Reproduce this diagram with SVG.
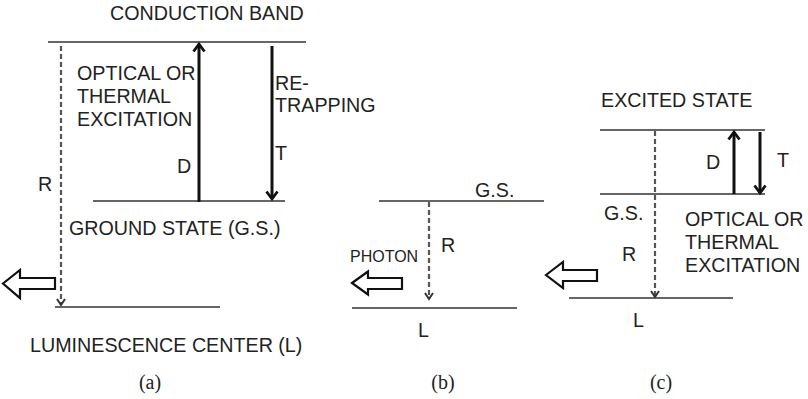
<svg xmlns="http://www.w3.org/2000/svg" width="808" height="399" viewBox="0 0 808 399">
<style>
text{font-family:"Liberation Sans",Arial,sans-serif;font-size:19.7px;fill:#222}
.cap{font-family:"Liberation Serif","DejaVu Serif",serif;font-size:20px;fill:#222}
.lvl{stroke:#333;stroke-width:1.6;fill:none}
.solid{stroke:#111;stroke-width:3;fill:none}
.dash{stroke:#555;stroke-width:2.2;stroke-dasharray:5 3;fill:none}
.hollow{fill:#fff;stroke:#111;stroke-width:2.2;stroke-linejoin:miter}
.sm{font-size:16px}
</style>
<defs>
<marker id="hs" markerWidth="14" markerHeight="14" refX="11" refY="7" orient="auto" markerUnits="userSpaceOnUse" viewBox="0 0 14 14">
<path d="M3.5,1.5 L11,7 L3.5,12.5" fill="none" stroke="#111" stroke-width="2.8"/>
</marker>
<marker id="hd" markerWidth="12" markerHeight="12" refX="10" refY="6" orient="auto" markerUnits="userSpaceOnUse" viewBox="0 0 12 12">
<path d="M4,2 L10,6 L4,10" fill="none" stroke="#333" stroke-width="2"/>
</marker>
</defs>

<g id="panel-a">
<g id="a-conduction-band">
<line class="lvl" x1="48" y1="42" x2="306" y2="42"/>
<text x="110" y="20">CONDUCTION BAND</text>
</g>
<g id="a-ground-state">
<line class="lvl" x1="93" y1="201" x2="285" y2="201"/>
<text x="69" y="235">GROUND STATE (G.S.)</text>
</g>
<g id="a-luminescence-center">
<line class="lvl" x1="55" y1="307" x2="220" y2="307"/>
<text x="30" y="352">LUMINESCENCE CENTER (L)</text>
</g>
<g id="a-labels">
<text x="77" y="80">OPTICAL OR</text>
<text x="77" y="103">THERMAL</text>
<text x="77" y="126">EXCITATION</text>
<text x="275" y="90">RE-</text>
<text x="275" y="112">TRAPPING</text>
<text x="177" y="173">D</text>
<text x="275" y="160">T</text>
<text x="38" y="191">R</text>
</g>
<g id="a-photon">
<path class="hollow" d="M3,283.5 L20,270 L20,278 L55,278 L55,289 L20,289 L20,298 Z"/>
</g>
<text class="cap" x="150" y="389" text-anchor="middle">(a)</text>
</g>

<g id="panel-b">
<g id="b-ground-state">
<line class="lvl" x1="379" y1="201" x2="544" y2="201"/>
<text x="475" y="197">G.S.</text>
</g>
<g id="b-luminescence-center">
<line class="lvl" x1="352" y1="308" x2="517" y2="308"/>
<text x="418" y="337">L</text>
</g>
<g id="b-labels">
<text x="441" y="252">R</text>
<text class="sm" x="350" y="262">PHOTON</text>
</g>
<g id="b-photon">
<path class="hollow" d="M352,283 L368,271.5 L368,278 L402,278 L402,289 L368,289 L368,294.5 Z"/>
</g>
<text class="cap" x="443" y="389" text-anchor="middle">(b)</text>
</g>

<g id="panel-c">
<g id="c-excited-state">
<line class="lvl" x1="600" y1="130" x2="765" y2="130"/>
<text x="601" y="107">EXCITED STATE</text>
</g>
<g id="c-ground-state">
<line class="lvl" x1="600" y1="194" x2="765" y2="194"/>
<text x="604" y="220">G.S.</text>
</g>
<g id="c-luminescence-center">
<line class="lvl" x1="569" y1="298" x2="733" y2="298"/>
<text x="633" y="327">L</text>
</g>
<g id="c-labels">
<text x="706" y="169">D</text>
<text x="777" y="167">T</text>
<text x="622" y="261">R</text>
<text x="685" y="226">OPTICAL OR</text>
<text x="685" y="249">THERMAL</text>
<text x="685" y="272">EXCITATION</text>
</g>
<g id="c-photon">
<path class="hollow" d="M546,275 L563,262 L563,270 L597,270 L597,281 L563,281 L563,288 Z"/>
</g>
<text class="cap" x="661" y="389" text-anchor="middle">(c)</text>
</g>

<g id="connectors">
<line class="dash" x1="61" y1="46" x2="61" y2="305" marker-end="url(#hd)"/>
<line class="solid" x1="199" y1="202" x2="199" y2="44" marker-end="url(#hs)"/>
<line class="solid" x1="272" y1="46" x2="272" y2="199" marker-end="url(#hs)"/>
<line class="dash" x1="429" y1="202" x2="429" y2="299" marker-end="url(#hd)"/>
<line class="dash" x1="655" y1="131" x2="655" y2="297" marker-end="url(#hd)"/>
<line class="solid" x1="734" y1="194" x2="734" y2="132" marker-end="url(#hs)"/>
<line class="solid" x1="760" y1="132" x2="760" y2="193" marker-end="url(#hs)"/>
</g>
</svg>
